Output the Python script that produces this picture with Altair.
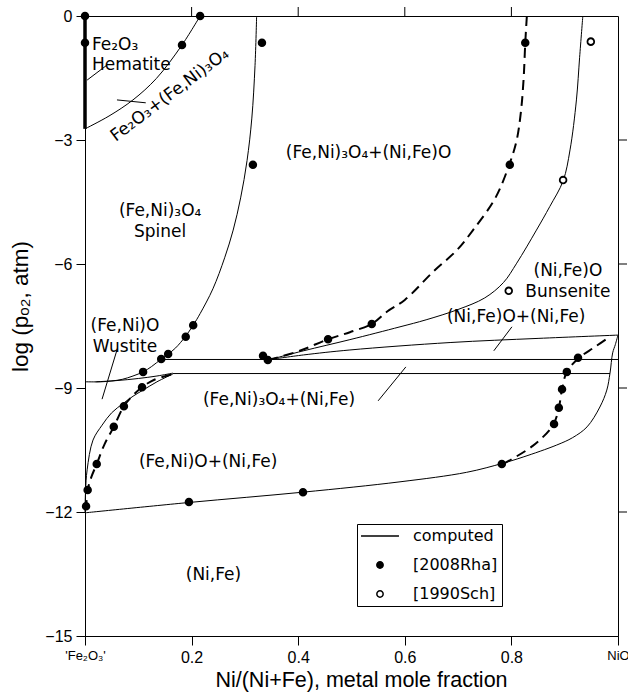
import altair as alt
import pandas as pd

# ---------------- data ----------------
# computed phase boundaries (solid)
HEM_X = [0.0, 0.0]
HEM_Y = [0.0, -2.73]

C1_X = [0.0, 0.045, 0.09, 0.134, 0.181, 0.216]
C1_Y = [-2.73, -2.42, -2.03, -1.51, -0.72, 0.0]

C2_X = [0.322, 0.319, 0.313, 0.304, 0.292, 0.278, 0.262, 0.24, 0.216, 0.203, 0.188, 0.17,
        0.156, 0.143, 0.125, 0.109, 0.09, 0.07, 0.05, 0.03, 0.0]
C2_Y = [0.0, -1.2, -2.47, -3.5, -4.4, -5.18, -5.85, -6.6, -7.2, -7.48, -7.76, -8.03,
        -8.18, -8.3, -8.48, -8.61, -8.71, -8.79, -8.83, -8.85, -8.85]

C3_X = [0.02, 0.06, 0.1, 0.135, 0.165]
C3_Y = [-8.85, -8.82, -8.77, -8.71, -8.64]

C4_X = [0.0, 0.001, 0.004, 0.015, 0.032, 0.05, 0.072, 0.09, 0.109, 0.135, 0.165]
C4_Y = [-12.0, -11.5, -10.98, -10.26, -9.9, -9.6, -9.37, -9.2, -9.05, -8.85, -8.66]

C5_X = [0.143, 1.0]
C5_Y = [-8.31, -8.31]

C6_X = [0.165, 0.985]
C6_Y = [-8.65, -8.65]

C7_X = [0.934, 0.928, 0.922, 0.91, 0.897, 0.872, 0.847, 0.81, 0.785, 0.75, 0.70, 0.64,
        0.591, 0.497, 0.41, 0.347]
C7_Y = [0.0, -1.0, -2.03, -3.24, -3.99, -4.61, -5.18, -5.98, -6.45, -6.82, -7.1, -7.35,
        -7.52, -7.83, -8.1, -8.31]

C8_X = [0.347, 0.41, 0.497, 0.685, 0.85, 1.0]
C8_Y = [-8.31, -8.2, -8.08, -7.9, -7.8, -7.72]

C9_X = [1.0, 0.995, 0.99, 0.985, 0.979, 0.966, 0.942, 0.915, 0.885, 0.822, 0.784, 0.716,
        0.591, 0.409, 0.195, 0.0]
C9_Y = [-7.72, -7.95, -8.15, -8.64, -9.05, -9.46, -9.94, -10.2, -10.38, -10.67, -10.82,
        -11.04, -11.27, -11.52, -11.77, -12.02]

# experimental boundaries (dashed)
D1_X = [0.829, 0.826, 0.823, 0.818, 0.81, 0.797, 0.77, 0.728, 0.698, 0.653, 0.6, 0.567,
        0.538, 0.497, 0.456, 0.403, 0.347]
D1_Y = [0.0, -0.65, -1.5, -2.3, -3.0, -3.56, -4.4, -5.18, -5.66, -6.19, -6.87, -7.15,
        -7.45, -7.65, -7.82, -8.1, -8.31]

D2_X = [0.0, 0.002, 0.005, 0.012, 0.022, 0.037, 0.054, 0.073, 0.09, 0.107, 0.13, 0.165]
D2_Y = [-11.95, -11.86, -11.47, -11.15, -10.84, -10.35, -9.94, -9.44, -9.18, -8.98, -8.8, -8.66]

D3_X = [0.784, 0.84, 0.878, 0.889, 0.895, 0.904, 0.925, 0.955, 0.985]
D3_Y = [-10.84, -10.4, -9.9, -9.48, -9.03, -8.61, -8.29, -8.02, -7.76]

# measured points
RHA_X = [0.0, 0.0, 0.182, 0.216, 0.332, 0.315, 0.826, 0.797, 0.456, 0.538, 0.203, 0.189,
         0.156, 0.143, 0.109, 0.107, 0.073, 0.054, 0.022, 0.005, 0.002, 0.195, 0.409,
         0.782, 0.88, 0.889, 0.895, 0.904, 0.925, 0.334, 0.343]
RHA_Y = [0.0, -0.65, -0.70, 0.0, -0.65, -3.6, -0.65, -3.6, -7.82, -7.45, -7.48, -7.76,
         -8.18, -8.3, -8.61, -8.98, -9.44, -9.94, -10.84, -11.47, -11.86, -11.76, -11.52,
         -10.84, -9.87, -9.48, -9.03, -8.61, -8.27, -8.22, -8.32]
SCH_X = [0.949, 0.897, 0.795]
SCH_Y = [-0.62, -3.97, -6.65]

SOURCES = ["computed", "[2008Rha]", "[1990Sch]"]

# region labels
LBL_TEXT = ["Fe₂O₃\nHematite", "(Fe,Ni)₃O₄\nSpinel", "(Fe,Ni)₃O₄+(Ni,Fe)O",
            "(Ni,Fe)O\nBunsenite", "(Ni,Fe)O+(Ni,Fe)", "(Fe,Ni)₃O₄+(Ni,Fe)",
            "(Fe,Ni)O\nWustite", "(Fe,Ni)O+(Ni,Fe)", "(Ni,Fe)"]
LBL_X = [0.013, 0.141, 0.532, 0.906, 0.809, 0.364, 0.075, 0.231, 0.241]
LBL_Y = [-0.70, -4.72, -3.31, -6.17, -7.28, -9.30, -7.51, -10.79, -13.52]
LBL_ALIGN = ["left", "center", "center", "center", "center", "center", "center", "center", "center"]

ROT_TEXT = ["Fe₂O₃+(Fe,Ni)₃O₄"]
ROT_X = [0.159]
ROT_Y = [-1.91]

# leader lines
LEAD_X = [0.004, 0.06, 0.06, 0.801, 0.602]
LEAD_Y = [-1.55, -2.03, -8.08, -7.52, -8.49]
LEAD_X2 = [0.041, 0.114, 0.032, 0.767, 0.55]
LEAD_Y2 = [-1.19, -2.10, -9.27, -8.10, -9.31]

# mirrored ticks on the top (at y = 0) and right (at x = 1) frame
TOP_TICKS = [0.2, 0.4, 0.6, 0.8]
RIGHT_TICKS = [-3, -6, -9, -12]
Y_TOP = 0.0
X_RIGHT = 1.0

# ---------------- build tables ----------------
def curves(named):
    rows = []
    for cid, (xs_, ys_) in named.items():
        for i, (a, b) in enumerate(zip(xs_, ys_)):
            rows.append({"id": cid, "o": i, "x": a, "y": b})
    return pd.DataFrame(rows)

solid = curves({"c1": (C1_X, C1_Y), "c2": (C2_X, C2_Y), "c3": (C3_X, C3_Y),
                "c4": (C4_X, C4_Y), "c5": (C5_X, C5_Y), "c6": (C6_X, C6_Y),
                "c7": (C7_X, C7_Y), "c8": (C8_X, C8_Y), "c9": (C9_X, C9_Y)})
dashed = curves({"d1": (D1_X, D1_Y), "d2": (D2_X, D2_Y), "d3": (D3_X, D3_Y)})
hem = curves({"h": (HEM_X, HEM_Y)})

pts = pd.DataFrame({"x": RHA_X + SCH_X, "y": RHA_Y + SCH_Y,
                    "src": ["[2008Rha]"] * len(RHA_X) + ["[1990Sch]"] * len(SCH_X)})
labels = pd.DataFrame({"t": LBL_TEXT, "x": LBL_X, "y": LBL_Y, "a": LBL_ALIGN})
rot = pd.DataFrame({"t": ROT_TEXT, "x": ROT_X, "y": ROT_Y})
leads = pd.DataFrame({"x": LEAD_X, "y": LEAD_Y, "x2": LEAD_X2, "y2": LEAD_Y2})
topt = pd.DataFrame({"x": TOP_TICKS, "y": [Y_TOP] * len(TOP_TICKS)})
rightt = pd.DataFrame({"x": [X_RIGHT] * len(RIGHT_TICKS), "y": RIGHT_TICKS})

FONT_LBL = "DejaVu Sans"
FONT_AX = "Liberation Sans"
W, H = 533, 620
TICK = 9

xs = alt.Scale(domain=[0, 1], nice=False, zero=False)
ys = alt.Scale(domain=[-15, 0], nice=False, zero=False)

x_axis = alt.Axis(
    values=[0, 0.2, 0.4, 0.6, 0.8, 1],
    labelExpr="datum.value == 0 ? \"'Fe₂O₃'\" : (datum.value == 1 ? 'NiO' : format(datum.value, '.1f'))",
    labelFontSize={"condition": {"test": "datum.value == 0 || datum.value == 1", "value": 13}, "value": 16},
    labelFont=FONT_AX, labelColor="black", labelFlush=False, labelPadding=4,
    tickSize=TICK, tickColor="black", domainColor="black", grid=False,
    title="Ni/(Ni+Fe), metal mole fraction", titleFont=FONT_AX, titleFontSize=21.5,
    titleFontWeight="normal", titleColor="black", titleX=276, titleY=50,
    titleBaseline="alphabetic", titleAnchor="start", titleAlign="center",
)
y_axis = alt.Axis(
    values=[0, -3, -6, -9, -12, -15],
    labelFont=FONT_AX, labelFontSize=16, labelColor="black", labelPadding=4,
    tickSize=TICK, tickColor="black", domainColor="black", grid=False,
    title="log (pₒ₂, atm)", titleFont=FONT_AX, titleFontSize=22.5,
    titleFontWeight="normal", titleColor="black", titleX=-58, titleY=290,
    titleAlign="center", titleAnchor="start", titleBaseline="alphabetic", titleAngle=270,
)

# identical encodings in every layer so the shared axes merge into one pair
X = alt.X("x:Q", scale=xs, axis=x_axis)
Y = alt.Y("y:Q", scale=ys, axis=y_axis)

solid_l = alt.Chart(solid).mark_line(color="black", strokeWidth=1, interpolate="catmull-rom").encode(
    x=X, y=Y, detail="id:N", order="o:Q")
dash_l = alt.Chart(dashed).mark_line(color="black", strokeWidth=2, strokeDash=[10, 6],
                                     interpolate="catmull-rom").encode(
    x=X, y=Y, detail="id:N", order="o:Q")
hem_l = alt.Chart(hem).mark_line(color="black", strokeWidth=3.5).encode(
    x=X, y=Y, order="o:Q")
lead_l = alt.Chart(leads).mark_rule(color="black", strokeWidth=1).encode(
    x=X, y=Y, x2="x2:Q", y2="y2:Q")

top_ticks = alt.Chart(topt).mark_tick(color="black", orient="vertical", size=TICK, thickness=1,
                                      yOffset=-TICK / 2, opacity=1).encode(x=X, y=Y)
right_ticks = alt.Chart(rightt).mark_tick(color="black", orient="horizontal", size=TICK, thickness=1,
                                          xOffset=TICK / 2, opacity=1).encode(x=X, y=Y)

LEG = dict(title=None, orient="none", legendX=272, legendY=508, padding=4,
           strokeColor="black", fillColor="white", cornerRadius=0,
           symbolSize=40, symbolStrokeColor="black", symbolStrokeWidth=1.5,
           symbolOffset=11,
           labelFont=FONT_LBL, labelFontSize=16, labelColor="black",
           labelOffset=25, rowPadding=13)
LINE_PATH = "M-6,0L6,0"

pts_l = alt.Chart(pts).mark_point(opacity=1, stroke="black", strokeWidth=1.8, size=45).encode(
    x=X, y=Y,
    shape=alt.Shape("src:N", scale=alt.Scale(domain=SOURCES, range=[LINE_PATH, "circle", "circle"]),
                    legend=alt.Legend(**LEG)),
    fill=alt.Fill("src:N", scale=alt.Scale(domain=SOURCES, range=["white", "black", "white"]),
                  legend=alt.Legend(**LEG)),
    stroke=alt.Stroke("src:N", scale=alt.Scale(domain=SOURCES, range=["black", "black", "black"]),
                      legend=alt.Legend(**LEG)),
)

lab_left = alt.Chart(labels[labels.a == "left"]).mark_text(
    font=FONT_LBL, fontSize=17, color="black", lineBreak="\n", lineHeight=20,
    baseline="middle", align="left").encode(x=X, y=Y, text="t:N")
lab_center = alt.Chart(labels[labels.a == "center"]).mark_text(
    font=FONT_LBL, fontSize=17, color="black", lineBreak="\n", lineHeight=21,
    baseline="middle", align="center").encode(x=X, y=Y, text="t:N")
rot_l = alt.Chart(rot).mark_text(font=FONT_LBL, fontSize=17, color="black", angle=323,
                                 baseline="middle", align="center").encode(
    x=X, y=Y, text="t:N")

chart = alt.layer(solid_l, dash_l, hem_l, lead_l, top_ticks, right_ticks,
                  lab_left, lab_center, rot_l, pts_l).properties(
    width=W, height=H,
    padding={"left": 85, "top": 16, "right": 10, "bottom": 62},
    autosize=alt.AutoSizeParams(type="none"),
    background="white",
).configure_view(stroke="black", strokeWidth=1)

chart.save("out.html", embed_options={"renderer": "svg", "actions": False})
